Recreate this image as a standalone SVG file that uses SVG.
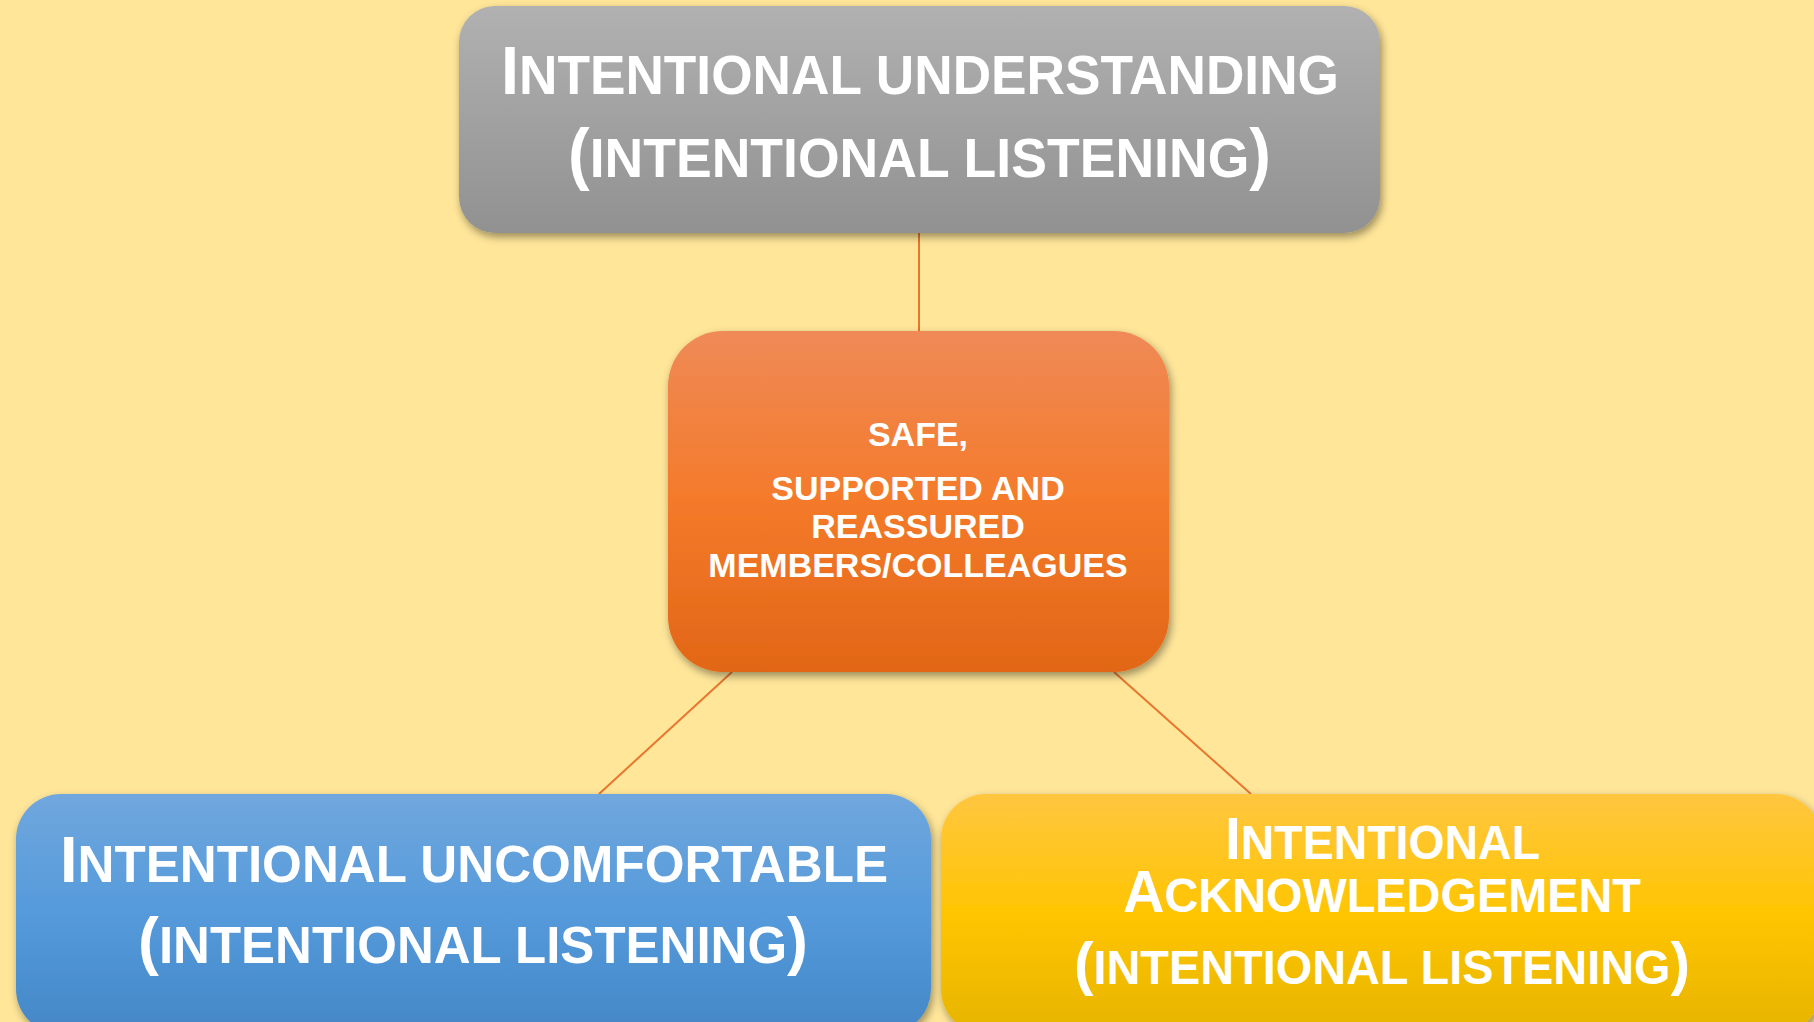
<svg xmlns="http://www.w3.org/2000/svg" width="1814" height="1022" viewBox="0 0 1814 1022">
<defs>
<linearGradient id="gGray" x1="0" y1="0" x2="0" y2="1"><stop offset="0" stop-color="#B1B1B1"/><stop offset="1" stop-color="#919191"/></linearGradient>
<linearGradient id="gOrange" x1="0" y1="0" x2="0" y2="1"><stop offset="0" stop-color="#EF8A57"/><stop offset="0.5" stop-color="#F47A2A"/><stop offset="1" stop-color="#E26616"/></linearGradient>
<linearGradient id="gBlue" x1="0" y1="0" x2="0" y2="1"><stop offset="0" stop-color="#70A7DD"/><stop offset="0.5" stop-color="#559ADB"/><stop offset="1" stop-color="#4487C6"/></linearGradient>
<linearGradient id="gYellow" x1="0" y1="0" x2="0" y2="1"><stop offset="0" stop-color="#FFC640"/><stop offset="0.5" stop-color="#FFC502"/><stop offset="1" stop-color="#E6B400"/></linearGradient>
<filter id="sh" x="-10%" y="-10%" width="120%" height="130%"><feDropShadow dx="2" dy="4" stdDeviation="4" flood-color="#000" flood-opacity="0.4"/></filter>
</defs>
<style>
.t{font-family:"Liberation Sans",Arial,sans-serif;font-weight:bold;fill:#FFFFFF}
.c{stroke:#E8762D;stroke-width:2;fill:none}
</style>
<rect x="0" y="0" width="1814" height="1022" fill="#FFE699"/>
<g id="connectors">
<line class="c" x1="919" y1="233" x2="919" y2="331"/>
<line class="c" x1="732" y1="672" x2="599" y2="794"/>
<line class="c" x1="1114" y1="672" x2="1251" y2="794"/>
</g>
<g id="node-top">
<rect x="459" y="6" width="921" height="227" rx="36" fill="url(#gGray)" filter="url(#sh)"/>
<text class="t" x="501" y="94" textLength="838" lengthAdjust="spacingAndGlyphs"><tspan font-size="68">I</tspan><tspan font-size="56">NTENTIONAL UNDERSTANDING</tspan></text>
<text class="t" x="568" y="177" textLength="703" lengthAdjust="spacingAndGlyphs"><tspan font-size="68">(</tspan><tspan font-size="56">INTENTIONAL LISTENING</tspan><tspan font-size="68">)</tspan></text>
</g>
<g id="node-center">
<rect x="668" y="331" width="501" height="341" rx="55" fill="url(#gOrange)" filter="url(#sh)"/>
<text class="t" font-size="34" text-anchor="middle"><tspan x="918" y="446">SAFE,</tspan><tspan x="918" y="500">SUPPORTED AND</tspan><tspan x="918" y="538">REASSURED</tspan><tspan x="918" y="577">MEMBERS/COLLEAGUES</tspan></text>
</g>
<g id="node-left">
<rect x="16" y="794" width="915" height="240" rx="45" fill="url(#gBlue)" filter="url(#sh)"/>
<text class="t" x="60" y="882" textLength="828" lengthAdjust="spacingAndGlyphs"><tspan font-size="64">I</tspan><tspan font-size="52">NTENTIONAL UNCOMFORTABLE</tspan></text>
<text class="t" x="138" y="963" textLength="670" lengthAdjust="spacingAndGlyphs"><tspan font-size="64">(</tspan><tspan font-size="52">INTENTIONAL LISTENING</tspan><tspan font-size="64">)</tspan></text>
</g>
<g id="node-right">
<rect x="941" y="794" width="880" height="240" rx="45" fill="url(#gYellow)" filter="url(#sh)"/>
<text class="t" x="1225" y="859" textLength="315" lengthAdjust="spacingAndGlyphs"><tspan font-size="60">I</tspan><tspan font-size="49">NTENTIONAL</tspan></text>
<text class="t" x="1123" y="912" textLength="518" lengthAdjust="spacingAndGlyphs"><tspan font-size="60">A</tspan><tspan font-size="49">CKNOWLEDGEMENT</tspan></text>
<text class="t" x="1074" y="984" textLength="616" lengthAdjust="spacingAndGlyphs"><tspan font-size="60">(</tspan><tspan font-size="48">INTENTIONAL LISTENING</tspan><tspan font-size="60">)</tspan></text>
</g>
</svg>
